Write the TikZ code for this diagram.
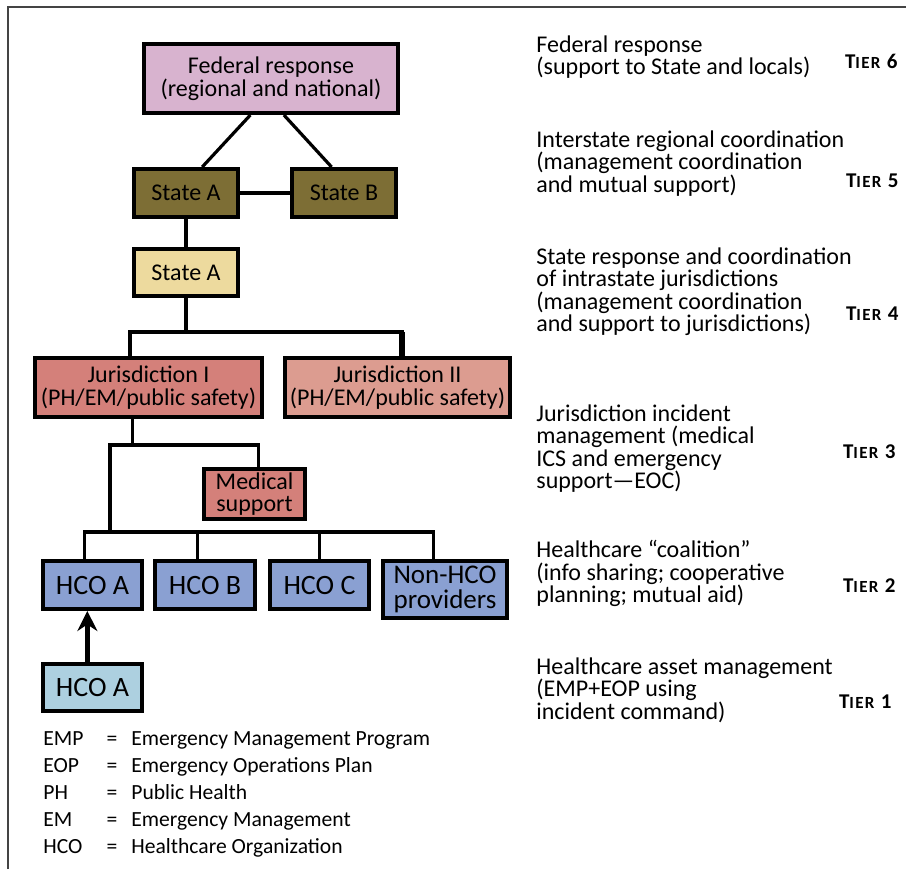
\documentclass[tikz,border=0pt]{standalone}
\usepackage{fontspec}
\setmainfont{Carlito}
\newfontfamily\tierfont[LetterSpace=8]{Carlito}
\usetikzlibrary{calc,arrows.meta}

% Fill colours of the boxes
\definecolor{fedfill}{HTML}{D8B3CF}
\definecolor{statefill}{HTML}{7D6E35}
\definecolor{instfill}{HTML}{EDDA9E}
\definecolor{jurfill}{HTML}{D4807A}
\definecolor{jurtwofill}{HTML}{DC9C90}
\definecolor{hcofill}{HTML}{8AA0D2}
\definecolor{assetfill}{HTML}{ADD0E0}
\definecolor{framegray}{HTML}{444444}

\tikzset{
  box/.style={draw=black, line width=2pt, align=center, inner sep=0pt,
    font=\fontsize{12}{11.25}\selectfont},
  hcobox/.style={box, fill=hcofill, minimum height=24pt,
    font=\fontsize{14}{12.5}\selectfont},
  link/.style={line width=1.6pt},
  tiertext/.style={anchor=north west, align=left, inner sep=0pt,
    font=\fontsize{12}{11.25}\selectfont},
  tierlabel/.style={anchor=base east, inner sep=0pt,
    font=\tierfont\bfseries\fontsize{10.5}{10.5}\selectfont},
  legend/.style={anchor=base west, inner sep=0pt,
    font=\fontsize{10.8}{13.5}\selectfont},
}
\newcommand{\tiername}[1]{T{\fontsize{8.5}{8.5}\selectfont IER}~#1}

\begin{document}
\begin{tikzpicture}[x=0.5pt, y=-0.5pt]

    % Fix the page size to the reference
    \useasboundingbox (0,0) rectangle (906,869);

    % Frame along the top and left edges
    \draw[framegray, line width=1pt] (8,869) -- (8,7) -- (906,7);

    % Tier 6 and 5 boxes
    \node[box, fill=fedfill, minimum width=127pt, minimum height=34.5pt] (fed) at (271,78.5) {Federal response\\(regional and national)};
    \node[box, fill=statefill, minimum width=52pt, minimum height=24pt] (stA) at (186,193) {State A};
    \node[box, fill=statefill, minimum width=52pt, minimum height=24pt] (stB) at (344,193) {State B};

    % Tier 4 and 3 boxes
    \node[box, fill=instfill, minimum width=52pt, minimum height=23.5pt] (stAin) at (186,272.5) {State A};
    \node[box, fill=jurfill, minimum width=113.5pt, minimum height=29.5pt] (jurI) at (148.5,387.5) {Jurisdiction I\\(PH/EM/public safety)};
    \node[box, fill=jurtwofill, minimum width=112.5pt, minimum height=29.5pt] (jurII) at (397.5,387.5) {Jurisdiction II\\(PH/EM/public safety)};
    \node[box, fill=jurfill, minimum width=50.5pt, minimum height=25pt] (med) at (254.5,494) {Medical\\support};

    % Tier 2 and 1 boxes
    \node[hcobox, minimum width=49.5pt] (hcoA) at (92.5,585) {HCO A};
    \node[hcobox, minimum width=50pt] (hcoB) at (205,585) {HCO B};
    \node[hcobox, minimum width=49.5pt] (hcoC) at (319.5,585) {HCO C};
    \node[hcobox, line width=2.4pt, minimum width=62pt, minimum height=28.5pt, font=\fontsize{13.5}{12.5}\selectfont] (nonhco) at (445,589.5) {Non-HCO\\providers};
    \node[hcobox, fill=assetfill, minimum width=49.5pt, minimum height=23.5pt] (hcoAl) at (92.5,687.5) {HCO A};

    % Connectors between federal and state boxes
    \draw[link] ($(fed.south west)!.42!(fed.south east)$) -- ($(stA.north west)!.65!(stA.north east)$);
    \draw[link] ($(fed.south west)!.55!(fed.south east)$) -- ($(stB.north west)!.385!(stB.north east)$);
    \draw[link] (stA.east) -- (stB.west);
    \draw[link] (stA.south) -- (stAin.north);

    % State to the jurisdictions
    \draw[link] (stAin.south) -- ++(0,34) coordinate (jbus);
    \coordinate (jtwo) at ($(jurII.north west)!.52!(jurII.north east)$);
    \draw[link] ($(jurI.north west)!.42!(jurI.north east)$) |- (jbus) -| (jtwo);
    \draw[line width=2.6pt] (jtwo) -- (jtwo |- jbus);

    % Jurisdiction I to medical support and the HCOs
    \coordinate (hbus) at (110,532);
    \draw[link] ($(jurI.south west)!.43!(jurI.south east)$) -- ++(0,26) coordinate (mbus);
    \draw[link] ($(med.north west)!.54!(med.north east)$) |- (mbus) -| (hbus);
    \draw[link] ($(hcoA.north west)!.42!(hcoA.north east)$) |- (hbus) -| ($(nonhco.north west)!.41!(nonhco.north east)$);
    \foreach \n/\r in {hcoB/.43, hcoC/.5}
        \draw[link] ($(\n.north west)!\r!(\n.north east)$) |- (hbus);

    % Arrow from the asset box up to HCO A
    \draw[line width=2.6pt, -{Stealth[length=10pt, width=10pt]}] ($(hcoAl.north west)!.45!(hcoAl.north east)$) -- ($(hcoA.south west)!.45!(hcoA.south east)$);

    % Tier descriptions on the right
    \node[tiertext] (t6) at (536,35) {Federal response\\(support to State and locals)};
    \node[tiertext] (t5) at (536,130) {Interstate regional coordination\\(management coordination\\and mutual support)};
    \node[tiertext] (t4) at (536,247) {State response and coordination\\of intrastate jurisdictions\\(management coordination\\and support to jurisdictions)};
    \node[tiertext] (t3) at (536,404) {Jurisdiction incident\\management (medical\\ICS and emergency\\support---EOC)};
    \node[tiertext] (t2) at (536,540) {Healthcare ``coalition''\\(info sharing; cooperative\\planning; mutual aid)};
    \node[tiertext] (t1) at (536,657) {Healthcare asset management\\(EMP+EOP using\\incident command)};

    % Tier labels
    \node[tierlabel] (l6) at (898,68) {\tiername{6}};
    \node[tierlabel] (l5) at (899,187) {\tiername{5}};
    \node[tierlabel] (l4) at (899,320) {\tiername{4}};
    \node[tierlabel] (l3) at (896,458) {\tiername{3}};
    \node[tierlabel] (l2) at (896,592) {\tiername{2}};
    \node[tierlabel] (l1) at (892,708) {\tiername{1}};

    % Legend of abbreviations
    \foreach \ab/\txt [count=\i] in {EMP/Emergency Management Program, EOP/Emergency Operations Plan, PH/Public Health, EM/Emergency Management, HCO/Healthcare Organization} {
        \node[legend] (ab\i) at (43,{745+27*(\i-1)}) {\ab};
        \node[legend, anchor=base] (eq\i) at (112,{745+27*(\i-1)}) {=};
        \node[legend] (tx\i) at (131,{745+27*(\i-1)}) {\txt};
    }

\end{tikzpicture}
\end{document}
